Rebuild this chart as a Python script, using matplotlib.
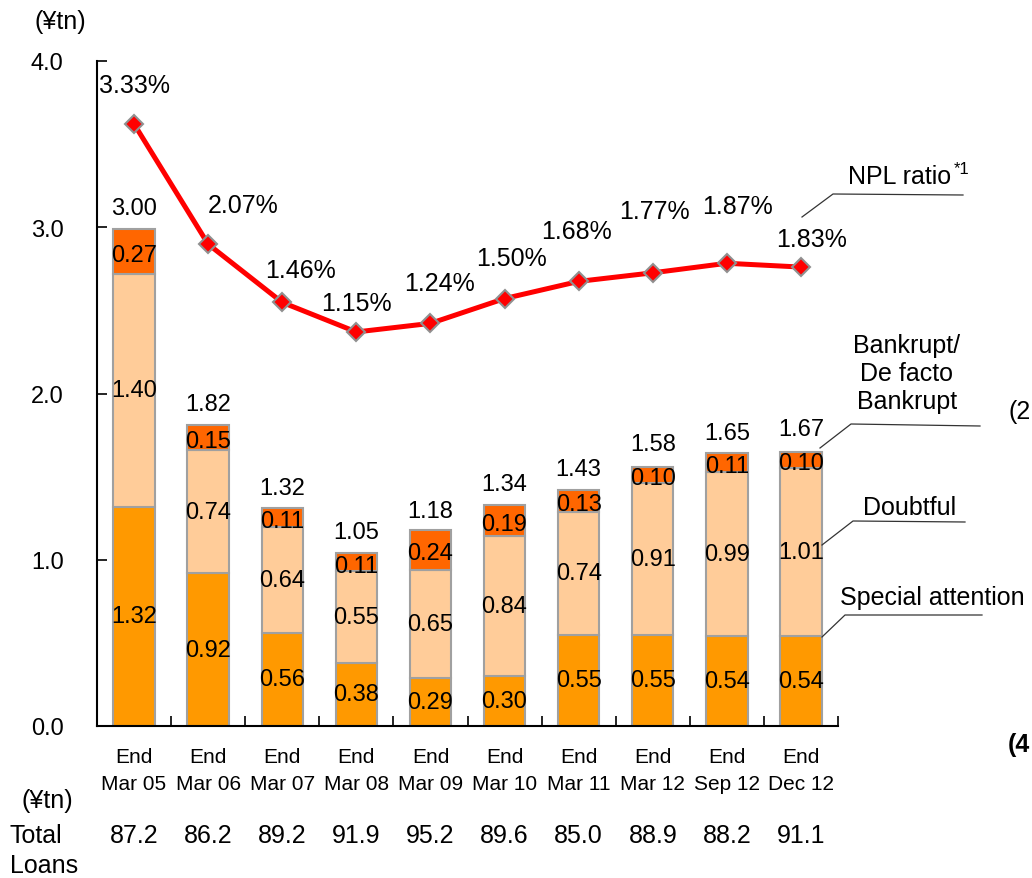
import numpy as np
import matplotlib
matplotlib.use('Agg')
import matplotlib.pyplot as plt
from matplotlib.lines import Line2D
from matplotlib.transforms import blended_transform_factory

# ── 데이터 ────────────────────────────────────────────────────────────────
periods   = ['Mar 05', 'Mar 06', 'Mar 07', 'Mar 08', 'Mar 09',
             'Mar 10', 'Mar 11', 'Mar 12', 'Sep 12', 'Dec 12']
special   = [1.32, 0.92, 0.56, 0.38, 0.29, 0.30, 0.55, 0.55, 0.54, 0.54]
doubtful  = [1.40, 0.74, 0.64, 0.55, 0.65, 0.84, 0.74, 0.91, 0.99, 1.01]
bankrupt  = [0.27, 0.15, 0.11, 0.11, 0.24, 0.19, 0.13, 0.10, 0.11, 0.10]
totals    = [3.00, 1.82, 1.32, 1.05, 1.18, 1.34, 1.43, 1.58, 1.65, 1.67]
npl_ratio = [3.33, 2.07, 1.46, 1.15, 1.24, 1.50, 1.68, 1.77, 1.87, 1.83]
loans     = [87.2, 86.2, 89.2, 91.9, 95.2, 89.6, 85.0, 88.9, 88.2, 91.1]

# 라벨 위치 (픽셀 오프셋)
NPL_OFFS = [(0, 39), (35, 39), (18, 32), (0, 29), (9, 40),
            (7, 41), (-2, 50), (2, 62), (11, 57), (11, 28)]

C_SPECIAL  = '#FF9900'
C_DOUBTFUL = '#FFCC99'
C_BANKRUPT = '#FF6600'
C_EDGE     = '#A0A0A0'

plt.rcParams['font.family'] = ['Liberation Sans', 'DejaVu Sans']
FS  = 17     # 막대 라벨, 눈금
FSL = 18     # 비율, 범례, 하단

W, H = 1032, 879
fig = plt.figure(figsize=(W / 100, H / 100), dpi=100, facecolor='white')
ax = fig.add_axes([97 / W, 1 - 727 / H, (838 - 97) / W, (727 - 62) / H])

def fx(px):
    return px / W

def fy(py):
    return 1 - py / H

x = np.arange(len(periods))
bw = 0.56
s = np.array(special)
d = np.array(doubtful)
b = np.array(bankrupt)

ax.bar(x, s, bw, color=C_SPECIAL, edgecolor=C_EDGE, lw=1.5, zorder=2)
ax.bar(x, d, bw, bottom=s, color=C_DOUBTFUL, edgecolor=C_EDGE, lw=1.5, zorder=2)
ax.bar(x, b, bw, bottom=s + d, color=C_BANKRUPT, edgecolor=C_EDGE, lw=1.5, zorder=2)

for i in range(len(x)):
    ax.text(x[i], s[i] / 2, f'{special[i]:.2f}', ha='center', va='center', fontsize=FS, zorder=5)
    ax.text(x[i], s[i] + d[i] / 2, f'{doubtful[i]:.2f}', ha='center', va='center', fontsize=FS, zorder=5)
    ax.text(x[i], s[i] + d[i] + b[i] / 2 - 0.02, f'{bankrupt[i]:.2f}', ha='center', va='center',
            fontsize=FS, zorder=5)
    ax.annotate(f'{totals[i]:.2f}', (x[i], totals[i]), xytext=(0, 19), textcoords='offset pixels',
                ha='center', va='center', fontsize=FS, zorder=5)

ax.set_xlim(-0.5, 9.5)
ax.set_ylim(0, 4.0)
ax.set_yticks([0, 1, 2, 3, 4])
ax.set_yticklabels([f'{v:.1f}' for v in [0, 1, 2, 3, 4]], fontsize=FS)
ax.tick_params(axis='y', direction='in', length=7, width=1.2, pad=24)
ax.set_xticks(x)
ax.set_xticklabels([f'End\n{p}' for p in periods], fontsize=15, linespacing=1.55)
ax.tick_params(axis='x', which='major', length=0, pad=15)
ax.set_xticks(np.arange(0.5, 10, 1.0), minor=True)
ax.tick_params(axis='x', which='minor', direction='in', length=7, width=1.2)
for sp in ['top', 'right']:
    ax.spines[sp].set_visible(False)
for sp in ['left', 'bottom']:
    ax.spines[sp].set_linewidth(1.5)

# ── NPL ratio (보조축) ────────────────────────────────────────────────────
ax2 = ax.twinx()
ax2.set_ylim(-2.98, 3.99)
ax2.axis('off')
ax2.plot(x, npl_ratio, color='#FF0000', lw=3.6, marker='D', ms=9,
         mfc='#FF0000', mec='#909090', mew=1.5, zorder=6, clip_on=False)
for i, (dx, dy) in enumerate(NPL_OFFS):
    ax2.annotate(f'{npl_ratio[i]:.2f}%', (x[i], npl_ratio[i]), xytext=(dx, dy),
                 textcoords='offset pixels', ha='center', va='center', fontsize=FSL)

# ── 범례 주석 ────────────────────────────────────────────────────────────
def leader(pts):
    fig.add_artist(Line2D([fx(p[0]) for p in pts], [fy(p[1]) for p in pts],
                          transform=fig.transFigure, color='#333333', lw=0.9))

leader([(802, 218), (833, 195), (963, 196)])
fig.text(fx(848), fy(177), 'NPL ratio', fontsize=FSL, va='center', ha='left')
fig.text(fx(954), fy(170), '*1', fontsize=12, va='center', ha='left')

leader([(820, 449), (851, 425), (980, 427)])
fig.text(fx(907), fy(374), 'Bankrupt/\nDe facto\nBankrupt', fontsize=FSL, ha='center', va='center',
         linespacing=1.2)

leader([(822, 546), (853, 522), (965, 523)])
fig.text(fx(910), fy(508), 'Doubtful', fontsize=FSL, ha='center', va='center')

leader([(822, 638), (845, 616), (982, 616)])
fig.text(fx(932), fy(598), 'Special attention', fontsize=FSL, ha='center', va='center')

fig.text(fx(1008), fy(412), '(2', fontsize=FSL, ha='left', va='center')
fig.text(fx(1008), fy(745), '(4', fontsize=FSL, ha='left', va='center', fontweight='bold')

# ── 단위 / 대출 합계 ─────────────────────────────────────────────────────
fig.text(fx(60), fy(22), '(¥tn)', fontsize=FSL, ha='center', va='center')
fig.text(fx(47), fy(801), '(¥tn)', fontsize=FSL, ha='center', va='center')
fig.text(fx(10), fy(851), 'Total\nLoans', fontsize=FSL, ha='left', va='center', linespacing=1.35)
tr = blended_transform_factory(ax.transData, fig.transFigure)
for i in range(len(x)):
    ax.text(x[i], fy(836), f'{loans[i]:.1f}', transform=tr, ha='center', va='center',
            fontsize=FSL, clip_on=False)

fig.savefig('out.png', dpi=100, facecolor='white')
